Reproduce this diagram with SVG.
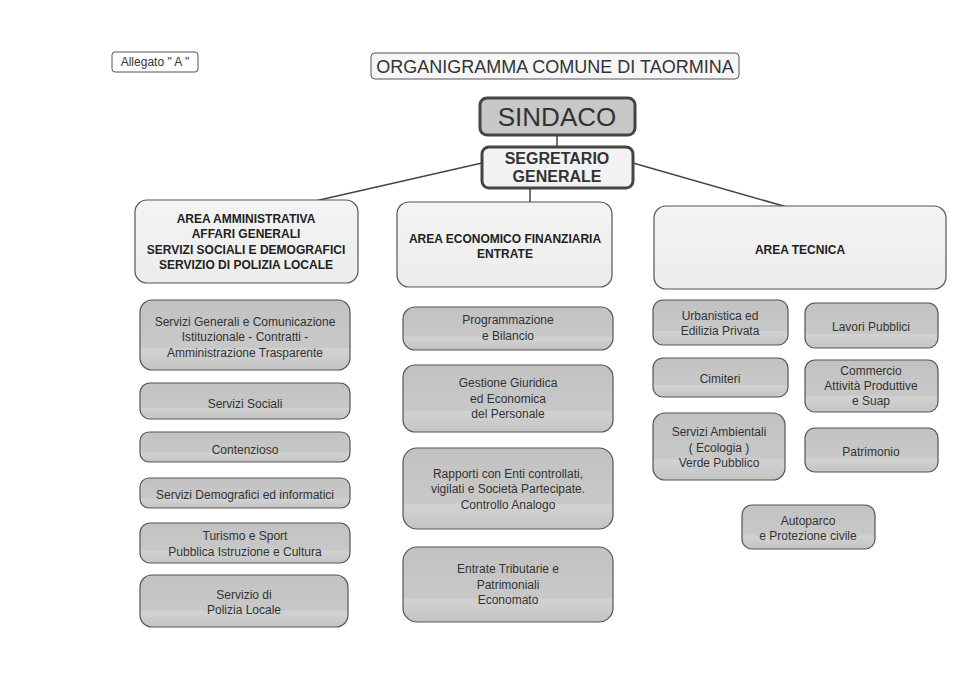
<svg xmlns="http://www.w3.org/2000/svg" width="980" height="679" viewBox="0 0 980 679">
<defs>
<linearGradient id="sub" x1="0" y1="0" x2="0" y2="1">
<stop offset="0" stop-color="#c2c2c2"/>
<stop offset="0.68" stop-color="#c8c8c8"/>
<stop offset="0.7" stop-color="#d2d2d2"/>
<stop offset="1" stop-color="#c4c4c4"/>
</linearGradient>
<linearGradient id="area" x1="0" y1="0" x2="0" y2="1">
<stop offset="0" stop-color="#f4f4f4"/>
<stop offset="1" stop-color="#ececec"/>
</linearGradient>
</defs>
<style>
text{font-family:"Liberation Sans",Arial,sans-serif;text-anchor:middle;fill:#333}
.sub{fill:url(#sub);stroke:#555;stroke-width:1.2}
.area{fill:url(#area);stroke:#555;stroke-width:1.2}
.st{font-size:12px}
.at{font-size:12px;font-weight:bold;fill:#222}
.conn line{stroke:#444;stroke-width:1.5}
</style>
<rect width="980" height="679" fill="#fff"/>

<g id="connectors" class="conn">
<line x1="557" y1="135" x2="557" y2="147"/>
<line x1="482" y1="163" x2="315" y2="201"/>
<line x1="633" y1="163" x2="787" y2="207"/>
<line x1="530" y1="188" x2="530" y2="203"/>
</g>

<g id="allegato">
<rect x="112" y="52" width="86" height="20" rx="3" fill="#fff" stroke="#555" stroke-width="1"/>
<text x="155" y="66" style="font-size:12px">Allegato " A "</text>
</g>
<g id="titolo">
<rect x="371" y="53" width="368" height="26" rx="4" fill="#f6f6f6" stroke="#555" stroke-width="1"/>
<text x="555" y="73" style="font-size:18px;fill:#333">ORGANIGRAMMA  COMUNE DI TAORMINA</text>
</g>

<g id="sindaco">
<rect x="480" y="98" width="155" height="37" rx="7" fill="#c8c8c8" stroke="#444" stroke-width="3"/>
<text x="557" y="126" style="font-size:26px;fill:#333">SINDACO</text>
</g>
<g id="segretario">
<rect x="482" y="147" width="151" height="41" rx="7" fill="#f2f2f2" stroke="#444" stroke-width="3"/>
<text x="557" y="164" style="font-size:16px;font-weight:bold;fill:#333">SEGRETARIO</text>
<text x="557" y="182" style="font-size:16px;font-weight:bold;fill:#333">GENERALE</text>
</g>

<g id="area-amministrativa">
<rect class="area" x="135" y="200" width="223" height="83" rx="12"/>
<text class="at" x="246" y="223">AREA AMMINISTRATIVA</text>
<text class="at" x="246" y="238">AFFARI GENERALI</text>
<text class="at" x="246" y="254">SERVIZI SOCIALI E DEMOGRAFICI</text>
<text class="at" x="246" y="269">SERVIZIO DI POLIZIA LOCALE</text>
</g>
<g id="area-economico">
<rect class="area" x="397" y="202" width="215" height="85" rx="12"/>
<text class="at" x="505" y="243">AREA ECONOMICO FINANZIARIA</text>
<text class="at" x="505" y="258">ENTRATE</text>
</g>
<g id="area-tecnica">
<rect class="area" x="654" y="206" width="292" height="83" rx="12"/>
<text class="at" x="800" y="254">AREA TECNICA</text>
</g>

<g id="servizi-generali">
<rect class="sub" x="140" y="300" width="210" height="70" rx="12"/>
<text class="st" x="245" y="326">Servizi Generali e Comunicazione</text>
<text class="st" x="245" y="341">Istituzionale - Contratti -</text>
<text class="st" x="245" y="357">Amministrazione Trasparente</text>
</g>
<g id="servizi-sociali">
<rect class="sub" x="140" y="383" width="210" height="36" rx="10"/>
<text class="st" x="245" y="408">Servizi Sociali</text>
</g>
<g id="contenzioso">
<rect class="sub" x="140" y="432" width="210" height="30" rx="9"/>
<text class="st" x="245" y="454">Contenzioso</text>
</g>
<g id="servizi-demografici">
<rect class="sub" x="140" y="478" width="210" height="30" rx="9"/>
<text class="st" x="245" y="499">Servizi Demografici  ed informatici</text>
</g>
<g id="turismo">
<rect class="sub" x="140" y="523" width="210" height="40" rx="10"/>
<text class="st" x="245" y="540">Turismo e Sport</text>
<text class="st" x="245" y="556">Pubblica Istruzione e Cultura</text>
</g>
<g id="polizia">
<rect class="sub" x="140" y="575" width="208" height="52" rx="12"/>
<text class="st" x="244" y="599">Servizio di</text>
<text class="st" x="244" y="614">Polizia Locale</text>
</g>

<g id="programmazione">
<rect class="sub" x="403" y="307" width="210" height="43" rx="12"/>
<text class="st" x="508" y="324">Programmazione</text>
<text class="st" x="508" y="340">e Bilancio</text>
</g>
<g id="gestione">
<rect class="sub" x="403" y="365" width="210" height="67" rx="12"/>
<text class="st" x="508" y="387">Gestione Giuridica</text>
<text class="st" x="508" y="403">ed Economica</text>
<text class="st" x="508" y="418">del Personale</text>
</g>
<g id="rapporti">
<rect class="sub" x="403" y="448" width="210" height="81" rx="14"/>
<text class="st" x="508" y="478">Rapporti con Enti  controllati,</text>
<text class="st" x="508" y="493">vigilati e Società Partecipate.</text>
<text class="st" x="508" y="509">Controllo Analogo</text>
</g>
<g id="entrate">
<rect class="sub" x="403" y="547" width="210" height="75" rx="14"/>
<text class="st" x="508" y="573">Entrate Tributarie e</text>
<text class="st" x="508" y="589">Patrimoniali</text>
<text class="st" x="508" y="604">Economato</text>
</g>

<g id="urbanistica">
<rect class="sub" x="653" y="300" width="135" height="45" rx="10"/>
<text class="st" x="720" y="320">Urbanistica ed</text>
<text class="st" x="720" y="335">Edilizia Privata</text>
</g>
<g id="lavori-pubblici">
<rect class="sub" x="805" y="303" width="133" height="45" rx="10"/>
<text class="st" x="871" y="331">Lavori Pubblici</text>
</g>
<g id="cimiteri">
<rect class="sub" x="653" y="358" width="135" height="39" rx="10"/>
<text class="st" x="720" y="383">Cimiteri</text>
</g>
<g id="commercio">
<rect class="sub" x="805" y="360" width="133" height="52" rx="10"/>
<text class="st" x="871" y="375">Commercio</text>
<text class="st" x="871" y="390">Attività Produttive</text>
<text class="st" x="871" y="405">e Suap</text>
</g>
<g id="servizi-ambientali">
<rect class="sub" x="653" y="413" width="132" height="67" rx="12"/>
<text class="st" x="719" y="436">Servizi Ambientali</text>
<text class="st" x="719" y="452">( Ecologia )</text>
<text class="st" x="719" y="467">Verde Pubblico</text>
</g>
<g id="patrimonio">
<rect class="sub" x="805" y="428" width="133" height="44" rx="10"/>
<text class="st" x="871" y="456">Patrimonio</text>
</g>
<g id="autoparco">
<rect class="sub" x="742" y="505" width="133" height="44" rx="10"/>
<text class="st" x="808" y="525">Autoparco</text>
<text class="st" x="808" y="540">e Protezione civile</text>
</g>
</svg>
